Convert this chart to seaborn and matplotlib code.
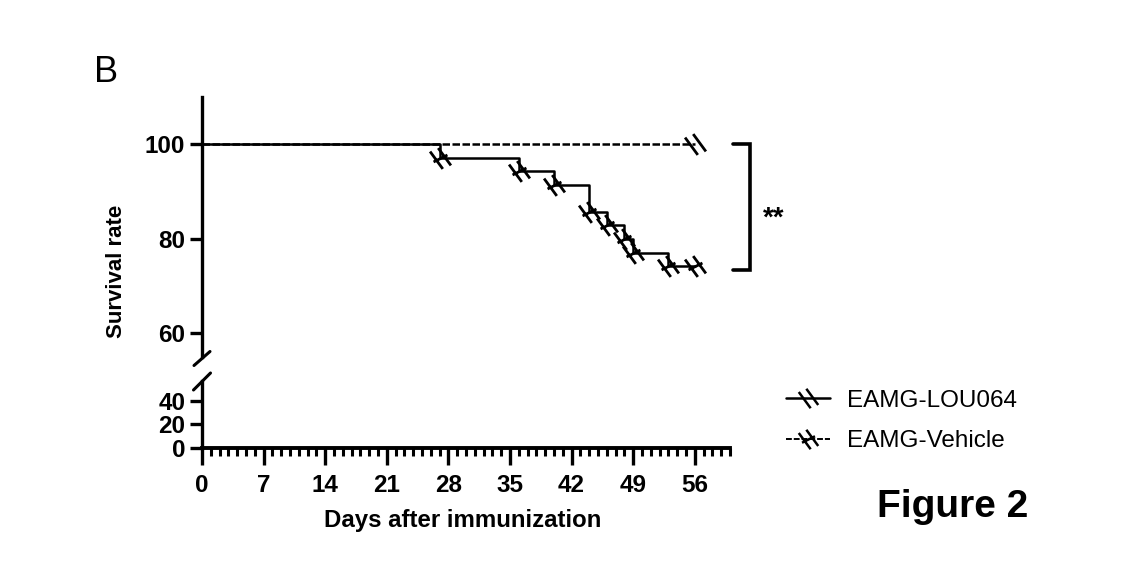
import matplotlib
matplotlib.use("Agg")
import matplotlib.pyplot as plt
from matplotlib import font_manager
from matplotlib.path import Path
from matplotlib.lines import Line2D
import seaborn as sns
import pandas as pd

# ---------------- data ----------------
vehicle_days = [0, 27, 36, 40, 44, 46, 48, 49, 53, 56]
vehicle_surv = [100, 97.1, 94.3, 91.4, 85.7, 82.9, 80.0, 77.1, 74.3, 74.3]
lou_days = [0, 56]
lou_surv = [100, 100]
series_labels = ["EAMG-LOU064", "EAMG-Vehicle"]
x_major_ticks = [0, 7, 14, 21, 28, 35, 42, 49, 56]
upper_yticks = [60, 80, 100]
lower_yticks = [0, 20, 40]
xlabel = "Days after immunization"
ylabel = "Survival rate"
signif = "**"
bracket_top, bracket_bottom = 100, 73.3

sns.set_style("ticks")
names = {f.name for f in font_manager.fontManager.ttflist}
narrow = "Liberation Sans Narrow" in names
base = "Liberation Sans" if "Liberation Sans" in names else "DejaVu Sans"
bold_fam = "Liberation Sans Narrow" if narrow else base
plt.rcParams["font.family"] = [base, "DejaVu Sans"]
for k in ("text.color", "axes.labelcolor", "xtick.color", "ytick.color",
          "axes.edgecolor"):
    plt.rcParams[k] = "black"
tick_fs = 20 if narrow else 17.5
ylab_fs = 19 if narrow else 16
xlab_fs = 20 if narrow else 17.3

W, H = 1144, 569
fig = plt.figure(figsize=(W / 100, H / 100), dpi=100)
fig.patch.set_facecolor("white")

def fx(p):
    return p / W

def fy(p):
    return 1 - p / H

x0, x1 = 202, 730
ax_top = fig.add_axes([fx(x0), fy(357), fx(x1 - x0), (357 - 97) / H])
ax_bot = fig.add_axes([fx(x0), fy(448), fx(x1 - x0), (448 - 381) / H])

# custom censor markers
m_lou = Path([(-0.9, 0.6), (0.2, -0.9), (-0.2, 0.9), (0.9, -0.6)],
             [Path.MOVETO, Path.LINETO, Path.MOVETO, Path.LINETO])
m_veh = Path([(-0.9, 0.6), (0.2, -0.9), (-0.2, 0.9), (0.9, -0.6),
              (-0.6, -0.3), (0.6, 0.3)],
             [Path.MOVETO, Path.LINETO, Path.MOVETO, Path.LINETO,
              Path.MOVETO, Path.LINETO])

df_lou = pd.DataFrame({"day": lou_days, "surv": lou_surv})
df_veh = pd.DataFrame({"day": vehicle_days, "surv": vehicle_surv})

sns.lineplot(data=df_veh, x="day", y="surv", ax=ax_top, estimator=None,
             sort=False, color="black", linewidth=1.8,
             drawstyle="steps-post",
             marker=m_veh, markersize=15, markeredgewidth=2.0,
             markerfacecolor="none", markeredgecolor="black",
             markevery=list(range(1, len(vehicle_days))))
sns.lineplot(data=df_lou, x="day", y="surv", ax=ax_top, estimator=None,
             sort=False, color="black", linewidth=1.8, dashes=False,
             linestyle=(0, (3, 1)), drawstyle="steps-post",
             marker=m_lou, markersize=15, markeredgewidth=2.0,
             markerfacecolor="none", markeredgecolor="black",
             markevery=[len(lou_days) - 1])

for ax in (ax_top, ax_bot):
    ax.set_xlim(0, 60)
    ax.set_facecolor("white")
    for s in ("top", "right"):
        ax.spines[s].set_visible(False)
    ax.spines["left"].set_linewidth(2.4)
    ax.spines["bottom"].set_linewidth(2.8)
    ax.set_xlabel("")
    ax.set_ylabel("")
    ax.tick_params(axis="y", direction="out", length=9, width=2.4, pad=3,
                   labelsize=tick_fs)

ax_top.set_ylim(55, 110)
ax_top.set_yticks(upper_yticks)
ax_top.spines["bottom"].set_visible(False)
ax_top.tick_params(axis="x", bottom=False, labelbottom=False)

ax_bot.set_ylim(0, 57)
ax_bot.set_yticks(lower_yticks)
ax_bot.set_xticks(x_major_ticks)
ax_bot.set_xticks(range(0, 61), minor=True)
ax_bot.tick_params(axis="x", which="major", direction="out", length=12,
                   width=2.4, pad=7, labelsize=tick_fs)
ax_bot.tick_params(axis="x", which="minor", direction="out", length=6,
                   width=2.2)

for ax in (ax_top, ax_bot):
    for lab in ax.get_xticklabels() + ax.get_yticklabels():
        lab.set_fontfamily(bold_fam)
        lab.set_fontweight("bold")

# axis break slashes (figure pixel coordinates)
for cx, cy, dx, dy in [(202, 358.5, 8, 7), (202, 381.5, 8.5, 8.5)]:
    fig.add_artist(Line2D([fx(cx - dx), fx(cx + dx)], [fy(cy + dy), fy(cy - dy)],
                          color="black", linewidth=2.2))

# significance bracket
ax_top.plot([60.3, 62.3, 62.3, 60.3],
            [bracket_top, bracket_top, bracket_bottom, bracket_bottom],
            color="black", linewidth=2.6, clip_on=False,
            solid_joinstyle="miter")
ax_top.text(65.0, 84.3, signif, fontsize=20, fontweight="bold",
            ha="center", va="center", family=bold_fam)

# labels
fig.text(fx(116), fy(271), ylabel, rotation=90, ha="center", va="center",
         fontsize=ylab_fs, fontweight="bold", family=bold_fam)
fig.text(fx(463), fy(521), xlabel, ha="center", va="center",
         fontsize=xlab_fs, fontweight="bold", family=bold_fam)
fig.text(fx(94), fy(73), "B", ha="left", va="center", fontsize=26)
fig.text(fx(877), fy(507), "Figure 2", ha="left", va="center", fontsize=28,
         fontweight="bold")

handles = [
    Line2D([], [], color="black", linewidth=1.8, marker=m_lou, markersize=14,
           markeredgewidth=1.8, markerfacecolor="none"),
    Line2D([], [], color="black", linewidth=1.4, linestyle=(0, (3, 1)),
           marker=m_veh, markersize=14, markeredgewidth=1.8,
           markerfacecolor="none"),
]
fig.legend(handles, series_labels, loc="center left",
           bbox_to_anchor=(fx(786), fy(421)), frameon=False, fontsize=17.5,
           handlelength=1.8, handletextpad=0.7, labelspacing=0.75,
           borderaxespad=0, borderpad=0)

fig.savefig("out.png", dpi=100, facecolor="white")
